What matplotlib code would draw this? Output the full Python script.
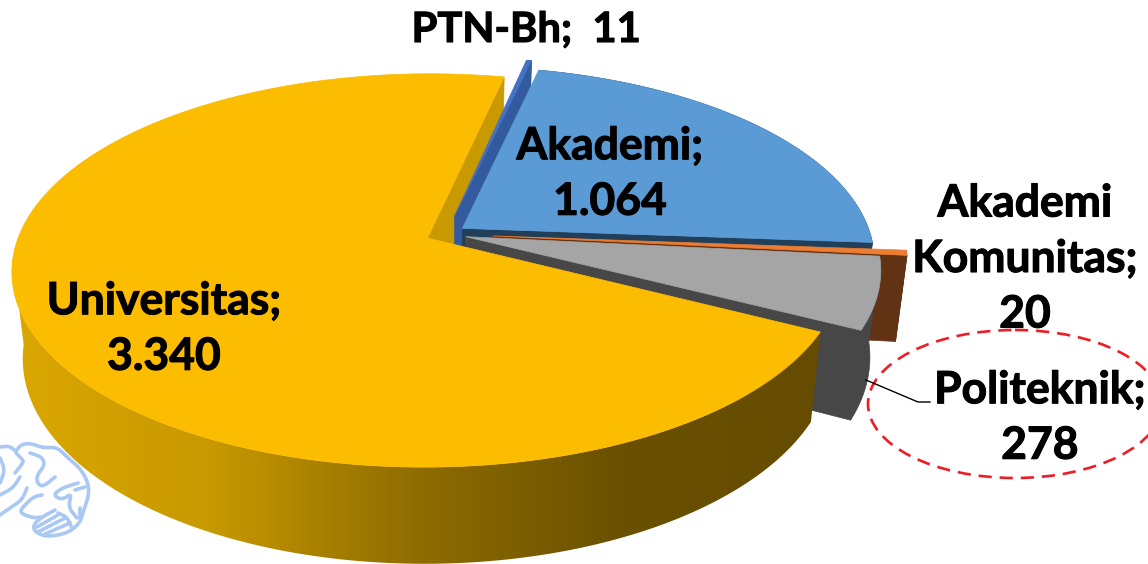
#3D exploded pie of institution counts, drawn as projected polygons

import numpy as np
import matplotlib.pyplot as plt
import matplotlib.patheffects as pe
from matplotlib.colors import LinearSegmentedColormap
from matplotlib.patches import Ellipse, Polygon

names = ['Universitas', 'PTN-Bh', 'Akademi', 'Akademi\nKomunitas', 'Politeknik']
values = [3340, 11, 1064, 20, 278]
value_labels = ['3.340', '11', '1.064', '20', '278']
explode = [0.05, 0.1, 0.05, 0.115, 0.05]
top_colors = ['#fcbc00', '#4472c4', '#5b9bd5', '#ed7d31', '#a5a5a5']
cut_colors = ['#c89a00', '#335a9f', '#223f59', '#613214', '#474747']
label_pos = [(164, 329), (526, 30), (610, 174), (1025, 259), (1040, 418)]
label_size = [32, 30, 32, 32, 32]

start_angle = 117.0
cx, cy = 446, 234
rx, ry = 408, 190
tilt = 0.164
drop, ground_scale_x, ground_scale_y = 85, 0.975, 1.05

plt.rcParams['font.family'] = ['Lato', 'DejaVu Sans']


#ground plane coordinates to pixels, z = 0 top face, z = 1 bottom face
def project(u, v, z=0):
    w = 1 - tilt * v
    x = rx * u / w
    y = ry * v / w

    if z:
        x = x * ground_scale_x
        y = y * ground_scale_y + drop

    return cx + x, cy + y


#point on a slice rim, angle is clockwise from the back of the pie
def rim(angle, off_u, off_v):
    a = np.radians(angle)
    return np.sin(a) + off_u, -np.cos(a) + off_v


def add_poly(ax, points, color, zorder):
    ax.add_patch(Polygon(points, closed=True, facecolor=color, edgecolor=color, linewidth=0.5, zorder=zorder))


#corner cutting so the hand placed brain strokes come out round
def smooth(points, passes=3):
    pts = np.array(points, dtype=float)

    for _ in range(passes):
        q = 0.75 * pts[:-1] + 0.25 * pts[1:]
        r = 0.25 * pts[:-1] + 0.75 * pts[1:]
        new = np.empty((2 * len(q), 2))
        new[0::2] = q
        new[1::2] = r
        pts = np.vstack([pts[0], new, pts[-1]])

    return pts


fig = plt.figure(figsize=(11.48, 5.64), dpi=100)
ax = fig.add_axes([0, 0, 1, 1])
ax.set_axis_off()

#slice spans from the values
total = sum(values)
spans = []
angle = start_angle

for i in range(len(values)):
    sweep = 360 * values[i] / total
    mid = np.radians(angle + sweep / 2)
    off_u = explode[i] * np.sin(mid)
    off_v = -explode[i] * np.cos(mid)
    spans.append((angle, angle + sweep, off_u, off_v))
    angle += sweep

#paint order, back to front: yellow cut face first, yellow body last
yellow = spans[0]
a_end = yellow[1]
ou, ov = yellow[2], yellow[3]
p_top = project(*rim(a_end, ou, ov))
p_bot = project(*rim(a_end, ou, ov), 1)
add_poly(ax, [project(ou, ov), p_top, p_bot, project(ou, ov, 1)], cut_colors[0], 2)

zorder = 3

for i in [1, 2, 3, 4]:
    a0, a1, ou, ov = spans[i]
    arc = np.linspace(a0, a1, 80)
    top = [project(*rim(a, ou, ov)) for a in arc]
    bottom = [project(*rim(a, ou, ov), 1) for a in arc]
    apex = project(ou, ov)
    apex_b = project(ou, ov, 1)

    #outer wall, then the cut face toward the viewer, then the top
    add_poly(ax, top + bottom[::-1], cut_colors[i], zorder)
    add_poly(ax, [apex, top[-1], bottom[-1], apex_b], cut_colors[i], zorder)
    add_poly(ax, [apex] + top, top_colors[i], zorder + 1)
    zorder += 2

#yellow outer wall with a left to right shading, stops at the left silhouette
a0, a1, ou, ov = yellow
arc = np.linspace(a0, 264, 200)
top = [project(*rim(a, ou, ov)) for a in arc]
bottom = [project(*rim(a, ou, ov), 1) for a in arc]
wall = Polygon(top + bottom[::-1], closed=True, transform=ax.transData)
shade = LinearSegmentedColormap.from_list('wall', ['#dca800', '#c89900', '#8f6d00', '#6a5000', '#654c00'])
img = ax.imshow(np.linspace(0, 1, 256).reshape(1, -1), cmap=shade, extent=(0, 830, 564, 0), aspect='auto', zorder=zorder)
img.set_clip_path(wall)
zorder += 1

arc = np.linspace(a0, a1, 300)
add_poly(ax, [project(ou, ov)] + [project(*rim(a, ou, ov)) for a in arc], top_colors[0], zorder)

#brain outline under the pie
brain_color = '#aac8f4'
brain_strokes = [
    [(0, 447), (10, 446), (16, 452), (20, 445), (30, 443), (43, 448), (57, 447), (68, 458), (80, 468), (88, 482), (89, 495), (83, 512), (80, 523), (68, 533), (47, 537), (35, 532), (33, 525), (42, 517), (55, 510)],
    [(16, 453), (23, 460), (23, 463), (15, 473)],
    [(30, 453), (42, 457), (45, 465), (37, 475), (37, 483), (43, 487), (55, 477)],
    [(0, 458), (5, 470), (0, 483)],
    [(20, 477), (13, 488), (0, 495)],
    [(27, 488), (22, 500), (10, 508), (0, 515)],
    [(42, 495), (33, 497), (22, 508), (20, 513), (33, 518), (42, 517)],
    [(78, 483), (62, 488), (53, 495), (62, 500), (72, 493), (68, 507), (77, 518)],
    [(85, 487), (75, 490)],
    [(80, 508), (80, 518)],
    [(58, 513), (67, 517), (72, 528)],
    [(37, 527), (58, 515)],
    [(38, 532), (65, 518)],
    [(45, 534), (70, 523)],
]

for stroke in brain_strokes:
    path = smooth(stroke)
    ax.plot(path[:, 0], path[:, 1], color=brain_color, linewidth=2.6, solid_capstyle='round', solid_joinstyle='round', zorder=1)

#callout ring and leader line
ax.add_patch(Ellipse((1015, 404), 294, 148, fill=False, edgecolor='#ee1c25', linestyle=(0, (5, 3)), linewidth=1.9, zorder=zorder + 1))
ax.plot([866, 918, 930], [380, 402, 402], color='black', linewidth=1, zorder=zorder + 1)

#value labels, thin stroke to thicken the bold face
for i in range(len(names)):
    if names[i] == 'PTN-Bh':
        label = names[i] + ';  ' + value_labels[i]
    else:
        label = names[i] + ';\n' + value_labels[i]

    ax.text(label_pos[i][0], label_pos[i][1], label, ha='center', va='center', fontsize=label_size[i], fontweight='bold',
            color='black', linespacing=1.47, zorder=zorder + 2,
            path_effects=[pe.withStroke(linewidth=0.8, foreground='black')])

ax.set_xlim(0, 1148)
ax.set_ylim(564, 0)
fig.savefig('out.png', dpi=100)
